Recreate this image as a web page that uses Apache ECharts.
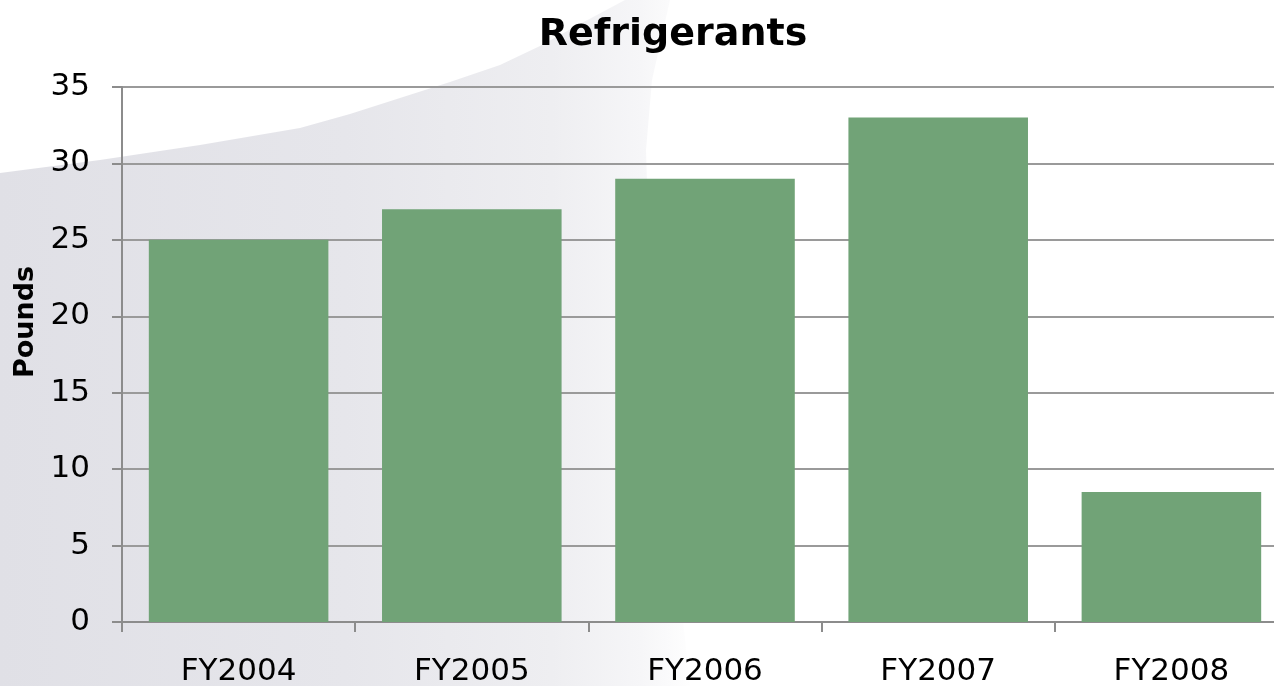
<!DOCTYPE html>
<html>
<head>
<meta charset="utf-8">
<script src="https://cdn.jsdelivr.net/npm/echarts@6/dist/echarts.min.js"></script>
<style>
  html, body { margin: 0; padding: 0; background: #fff; }
  #chart { width: 1274px; height: 686px; }
</style>
</head>
<body>
<div id="chart"></div>
<script>
const categories = ['FY2004', 'FY2005', 'FY2006', 'FY2007', 'FY2008']
const pounds = [25, 27, 29, 33, 8.5]
const yTicks = { min: 0, max: 35, interval: 5 }

const chart = echarts.init(document.getElementById('chart'))
const font = 'DejaVu Sans, Verdana, sans-serif'

const option = {
  backgroundColor: '#fff',
  animation: false,
  title: {
    text: 'Refrigerants',
    left: 668,
    top: 11,
    textAlign: 'center',
    textStyle: { fontFamily: font, fontSize: 38, fontWeight: 'bold', color: '#000' }
  },
  graphic: [
    { // grey swoosh behind the chart
      type: 'polygon',
      z: -10,
      shape: {
        points: [[0, 173], [100, 160], [200, 145], [300, 128], [350, 114], [400, 98], [450, 82],
          [500, 65], [540, 46], [580, 24], [625, 0], [670, 0], [652, 80], [646, 150], [650, 280],
          [665, 450], [690, 686], [0, 686]]
      },
      style: {
        fill: {
          type: 'linear', x: 0, y: 0, x2: 1, y2: 0,
          colorStops: [
            { offset: 0, color: '#e0e0e6' },
            { offset: 0.5, color: '#e6e6eb' },
            { offset: 0.8, color: '#eeeef1' },
            { offset: 0.93, color: '#f6f6f8' },
            { offset: 1, color: '#fefefe' }
          ]
        }
      }
    },
    {
      type: 'text',
      x: 26,
      y: 322,
      rotation: Math.PI / 2,
      style: {
        text: 'Pounds',
        font: 'bold 27px ' + font,
        fill: '#000',
        align: 'center',
        verticalAlign: 'middle'
      }
    }
  ],
  grid: {
    left: 122,
    top: 87,
    width: 1166,
    height: 535,
    outerBoundsMode: 'none'
  },
  xAxis: {
    type: 'category',
    data: categories,
    axisLine: { lineStyle: { color: '#8c8c8c', width: 2 } },
    axisTick: { show: true, length: 10, lineStyle: { color: '#8c8c8c', width: 2 } },
    axisLabel: { margin: 34, fontFamily: font, fontSize: 31, color: '#000' }
  },
  yAxis: {
    type: 'value',
    min: yTicks.min,
    max: yTicks.max,
    interval: yTicks.interval,
    axisLine: { show: true, lineStyle: { color: '#8c8c8c', width: 2 } },
    axisTick: { show: true, length: 10, lineStyle: { color: '#8c8c8c', width: 2 } },
    axisLabel: { margin: 32, fontFamily: font, fontSize: 31, color: '#000' },
    splitLine: { show: true, lineStyle: { color: '#9a9a9a', width: 2 } }
  },
  series: [
    {
      name: 'Pounds',
      type: 'bar',
      data: pounds,
      barCategoryGap: '23%',
      itemStyle: { color: '#71a377' }
    }
  ]
}
chart.setOption(option)
</script>
</body>
</html>
